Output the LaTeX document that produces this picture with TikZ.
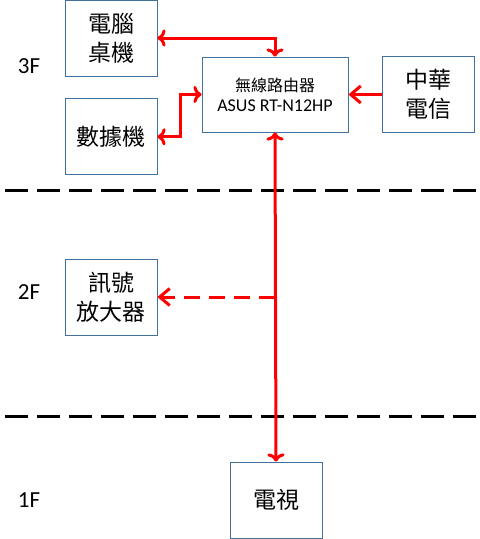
\documentclass[tikz,border=0pt]{standalone}
\usepackage{fontspec}
\setmainfont{Carlito}
\newfontfamily\cjk{Noto Sans CJK TC}
\usepackage{tikz}
\usetikzlibrary{arrows.meta, positioning}
\definecolor{boxblue}{RGB}{65,113,156}
\tikzstyle{device} = [rectangle, 
minimum width=92pt, 
minimum height=76pt, 
text centered, 
align=center,
draw=boxblue, line width=0.8pt,
font=\cjk\fontsize{23}{29}\selectfont]
\tikzstyle{floor} = [font=\fontsize{23}{26}\selectfont]
\tikzstyle{arrow} = [red, line width=3pt, arrows={-Straight Barb[length=10pt, width=17pt]}]
\tikzstyle{cut} = [line width=3pt, dash pattern=on 23pt off 9pt]

\begin{document}
\begin{tikzpicture}[x=1pt, y=-1pt, node distance=22pt]
        \useasboundingbox (0,0) rectangle (480,539);

        \node (pc) [device] at (111,38) {電腦\\桌機};
        \node (modem) [device, below=of pc] {數據機};
        \node (router) [device, minimum width=146pt, minimum height=75pt,
          font=\fontsize{18}{20}\selectfont] at (275,94.5) {{\cjk\fontsize{16}{20}\selectfont 無線路由器}\\ASUS RT-N12HP};
        \node (isp) [device, right=34pt of router] {中華\\電信};
        \node (amp) [device] at (111,297) {訊號\\放大器};
        \node (tv) [device] at (276,500) {電視};

        \node (f3) [floor] at (29,66) {3F};
        \node (f2) [floor] at (29,292) {2F};
        \node (f1) [floor] at (29,500) {1F};

        % floor lines
        \draw [cut] (5,190) -- (478,190);
        \draw [cut] (5,416) -- (478,416);

        \draw [arrow, <->] (pc.east) -| (router.north);
        \draw [arrow, <->] (router.west) -- ++(-21,0) |- (modem.east);
        \draw [arrow] (isp.west) -- (router.east);
        \draw [arrow, <->] (router.south) -- (tv.north);

        \coordinate (tap) at (router.south |- amp.east);
        \draw [arrow, dash pattern=on 16pt off 9pt] (tap) -- (amp.east);

    \end{tikzpicture}
\end{document}
